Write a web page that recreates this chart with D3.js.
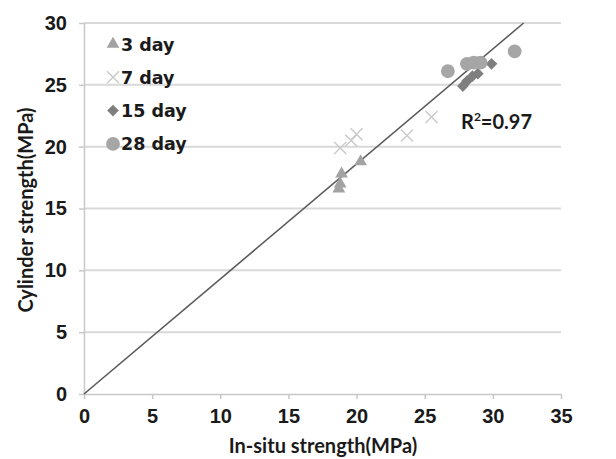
<!DOCTYPE html>
<html>
<head>
<meta charset="utf-8">
<script src="https://cdn.jsdelivr.net/npm/d3@7"></script>
<style>
  body { margin: 0; background: #fff; }
  svg { display: block; font-family: Lato, "DejaVu Sans", sans-serif; }
  .grid line { stroke: #d9d9d9; stroke-width: 2; }
  .axis path, .axis line { stroke: #c8c8c8; stroke-width: 1.5; }
  .axis text { font-size: 20px; font-weight: bold; fill: #1a1a1a; }
  .title { font-size: 20px; font-weight: bold; fill: #1a1a1a; }
  .legend text { font-family: "DejaVu Sans", sans-serif; font-size: 17.5px; font-weight: bold; fill: #1a1a1a; }
</style>
</head>
<body>
<script>
  const xTicks = [0, 5, 10, 15, 20, 25, 30, 35];
  const yTicks = [0, 5, 10, 15, 20, 25, 30];

  // [in-situ, cylinder]
  const day3 = [[18.7, 16.6], [18.8, 17.0], [18.9, 17.8], [20.3, 18.8]];
  const day7 = [[18.8, 19.9], [19.6, 20.5], [20.0, 21.0], [23.7, 20.9], [25.5, 22.4]];
  const day15 = [[27.8, 24.9], [28.1, 25.3], [28.5, 25.7], [28.9, 25.9], [29.9, 26.7]];
  const day28 = [[26.7, 26.1], [28.1, 26.7], [28.6, 26.8], [29.1, 26.8], [31.6, 27.7]];
  const slope = 0.93;
  const r2 = '0.97';

  const series = [
    {name: '3 day', data: day3, shape: 'tri', color: '#a3a3a3'},
    {name: '7 day', data: day7, shape: 'cross', color: '#c9c9c9'},
    {name: '15 day', data: day15, shape: 'diamond', color: '#7f7f7f'},
    {name: '28 day', data: day28, shape: 'circle', color: '#a6a6a6'},
  ];

  const w = 616, h = 459;
  const l = 84, r = 561, t = 23, b = 394;

  const x = d3.scaleLinear().domain([0, 35]).range([l, r]);
  const y = d3.scaleLinear().domain([0, 30]).range([b, t]);

  const svg = d3.select('body').append('svg')
    .attr('width', w).attr('height', h);

  // horizontal gridlines
  svg.append('g').attr('class', 'grid')
    .selectAll('line')
    .data(yTicks.filter(d => d > 0))
    .join('line')
    .attr('x1', l).attr('x2', r)
    .attr('y1', d => y(d)).attr('y2', d => y(d));

  // x axis
  svg.append('g').attr('class', 'axis')
    .attr('transform', `translate(0, ${b})`)
    .call(d3.axisBottom(x).tickValues(xTicks).tickSize(5).tickSizeOuter(0).tickPadding(10));

  // y axis
  svg.append('g').attr('class', 'axis')
    .attr('transform', `translate(${l}, 0)`)
    .call(d3.axisLeft(y).tickValues(yTicks).tickSize(5).tickSizeOuter(0).tickPadding(12));

  // regression line through origin
  const xEnd = 30 / slope;
  svg.append('line')
    .attr('x1', x(0)).attr('y1', y(0))
    .attr('x2', x(xEnd)).attr('y2', y(slope * xEnd))
    .attr('stroke', '#5a5a5a').attr('stroke-width', 1.6);

  const sym = {
    tri: d3.symbol().type(d3.symbolTriangle).size(70),
    diamond: d3.symbol().type(d3.symbolSquare).size(68),
    circle: d3.symbol().type(d3.symbolCircle).size(150),
  };

  function marker(g, s) {
    if (s.shape === 'cross') {
      const k = 6;
      g.append('path')
        .attr('d', `M${-k},${-k}L${k},${k}M${-k},${k}L${k},${-k}`)
        .attr('stroke', s.color).attr('stroke-width', 1.4).attr('fill', 'none');
    } else {
      g.append('path')
        .attr('d', sym[s.shape]())
        .attr('transform', s.shape === 'diamond' ? 'rotate(45)' : null)
        .attr('fill', s.color);
    }
  }

  series.forEach(s => {
    svg.append('g').selectAll('g')
      .data(s.data)
      .join('g')
      .attr('transform', d => `translate(${x(d[0])}, ${y(d[1])})`)
      .each(function() { marker(d3.select(this), s); });
  });

  // legend
  const legend = svg.append('g').attr('class', 'legend');
  series.forEach((s, i) => {
    const g = legend.append('g').attr('transform', `translate(113, ${44 + i * 33.3})`);
    marker(g, s);
    g.append('text').attr('x', 8).attr('y', 6.5).text(s.name);
  });

  const rt = svg.append('text')
    .attr('x', 461).attr('y', 129)
    .attr('font-size', 20).attr('font-weight', 'bold').attr('fill', '#1a1a1a');
  rt.append('tspan').text('R');
  rt.append('tspan').attr('font-size', 12).attr('dy', -8).text('2');
  rt.append('tspan').attr('dy', 8).text('=' + r2);

  svg.append('text').attr('class', 'title')
    .attr('x', 323).attr('y', 453)
    .attr('text-anchor', 'middle')
    .text('In-situ strength(MPa)');

  svg.append('text').attr('class', 'title')
    .attr('transform', `translate(33, 210) rotate(-90)`)
    .attr('text-anchor', 'middle')
    .text('Cylinder strength(MPa)');
</script>
</body>
</html>
